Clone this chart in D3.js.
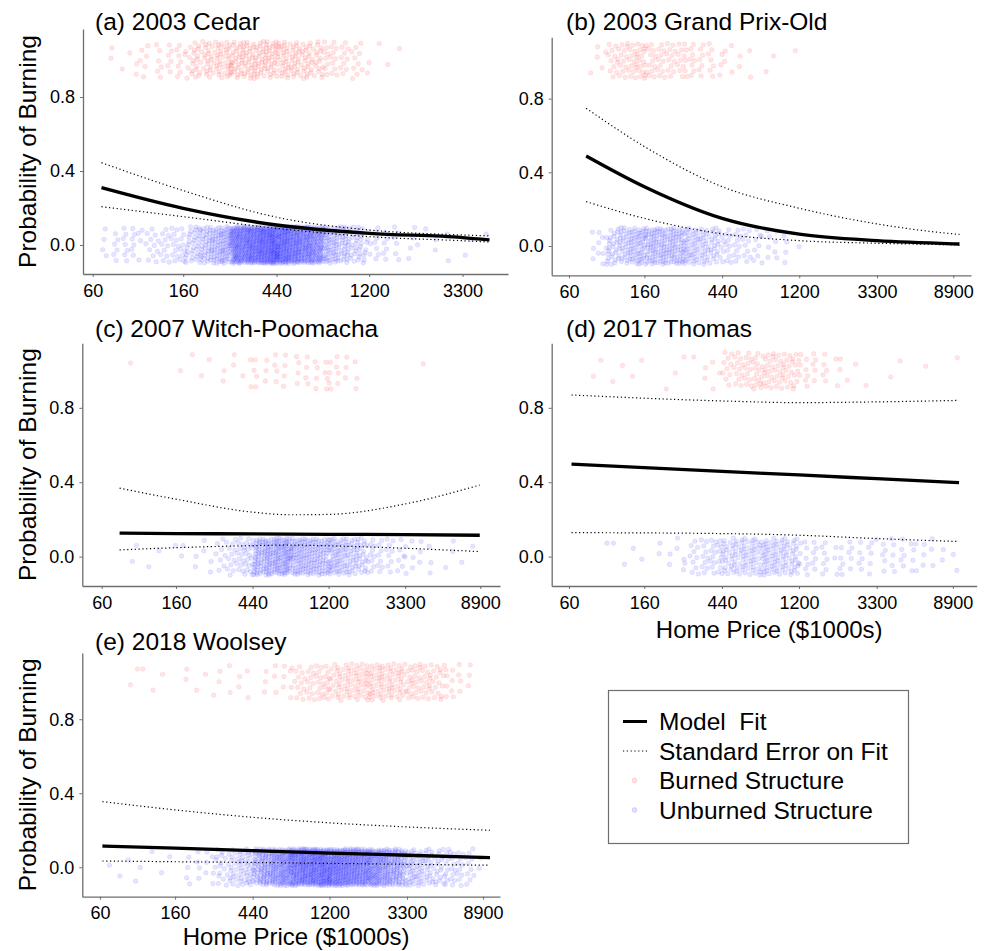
<!DOCTYPE html>
<html>
<head>
<meta charset="utf-8">
<script src="https://cdnjs.cloudflare.com/ajax/libs/d3/7.8.5/d3.min.js"></script>
<style>
  body { margin: 0; background: #fff; }
  svg text { font-family: "Liberation Sans", Arial, sans-serif; fill: #000; }
</style>
</head>
<body>
<svg id="chart" width="989" height="951"></svg>
<script>
// axis ticks
const priceTicks = [60, 160, 440, 1200, 3300, 8900];   // home price, $1000s
const probTicks = [0.0, 0.4, 0.8];

// structures are counted in price bins (half a log unit each), lower edges here
const binEdges = [60, 99, 163, 269, 443, 731, 1205, 1987, 3276, 5402, 8906, 14684];

const fireNames = ["(a) 2003 Cedar", "(b) 2003 Grand Prix-Old", "(c) 2007 Witch-Poomacha",
                   "(d) 2017 Thomas", "(e) 2018 Woolsey"];

// counts of structures per price bin
const cedarBurned     = [6, 25, 80, 110, 90, 40, 3, 0, 0, 0, 0];
const cedarUnburned   = [25, 45, 160, 480, 430, 130, 25, 6, 3, 0, 0];
const grandBurned     = [5, 55, 45, 30, 8, 3, 0, 0, 0, 0, 0];
const grandUnburned   = [12, 110, 140, 90, 40, 15, 0, 0, 0, 0, 0];
const witchBurned     = [1, 0, 4, 7, 15, 16, 14, 0, 1, 0, 0];
const witchUnburned   = [2, 3, 8, 50, 180, 150, 110, 35, 12, 5, 0];
const thomasBurned    = [2, 4, 3, 6, 45, 55, 20, 5, 2, 1, 1];
const thomasUnburned  = [1, 4, 8, 40, 80, 85, 25, 20, 20, 10, 2];
const woolseyBurned   = [2, 3, 5, 8, 12, 45, 65, 70, 55, 15, 0];
const woolseyUnburned = [4, 4, 14, 70, 240, 380, 350, 240, 90, 40, 0];

// lowest / highest home price seen in each fire
const cedarRange   = [66, 4420];
const grandRange   = [74, 1205];
const witchRange   = [76, 8900];
const thomasRange  = [62, 9470];
const woolseyRange = [62, 8650];

// model fit and standard error band, read at these prices
const cedarFitPrice = [66, 160, 440, 1200, 3300, 4420];
const cedarFit      = [0.31, 0.198, 0.108, 0.063, 0.04, 0.027];
const cedarUpper    = [0.445, 0.294, 0.15, 0.081, 0.054, 0.049];
const cedarLower    = [0.207, 0.153, 0.09, 0.045, 0.023, 0.016];

const grandFitPrice = [75, 160, 440, 1200, 3300, 8900, 9650];
const grandFit      = [0.489, 0.322, 0.15, 0.064, 0.029, 0.012, 0.011];
const grandUpper    = [0.748, 0.54, 0.322, 0.205, 0.12, 0.066, 0.063];
const grandLower    = [0.241, 0.15, 0.066, 0.029, 0.015, 0.006, 0.005];

const witchFitPrice = [76, 160, 440, 730, 1200, 3300, 8840];
const witchFit      = [0.126, 0.124, 0.122, 0.121, 0.12, 0.118, 0.115];
const witchUpper    = [0.368, 0.309, 0.239, 0.225, 0.227, 0.283, 0.385];
const witchLower    = [0.036, 0.048, 0.059, 0.062, 0.058, 0.045, 0.027];

const thomasFitPrice = [62, 440, 1200, 3300, 9650];
const thomasFit      = [0.497, 0.458, 0.439, 0.419, 0.398];
const thomasUpper    = [0.869, 0.837, 0.828, 0.832, 0.84];
const thomasLower    = [0.129, 0.124, 0.115, 0.097, 0.081];

const woolseyFitPrice = [62, 160, 440, 1200, 3300, 9740];
const woolseyFit      = [0.115, 0.103, 0.09, 0.077, 0.065, 0.052];
const woolseyUpper    = [0.355, 0.31, 0.27, 0.24, 0.218, 0.2];
const woolseyLower    = [0.034, 0.03, 0.026, 0.021, 0.016, 0.011];

const legendLabels = ["Model  Fit", "Standard Error on Fit", "Burned Structure", "Unburned Structure"];

const panels = [
  {name: fireNames[0], burned: cedarBurned, unburned: cedarUnburned, range: cedarRange,
   fitPrice: cedarFitPrice, fit: cedarFit, upper: cedarUpper, lower: cedarLower},
  {name: fireNames[1], burned: grandBurned, unburned: grandUnburned, range: grandRange,
   fitPrice: grandFitPrice, fit: grandFit, upper: grandUpper, lower: grandLower},
  {name: fireNames[2], burned: witchBurned, unburned: witchUnburned, range: witchRange,
   fitPrice: witchFitPrice, fit: witchFit, upper: witchUpper, lower: witchLower},
  {name: fireNames[3], burned: thomasBurned, unburned: thomasUnburned, range: thomasRange,
   fitPrice: thomasFitPrice, fit: thomasFit, upper: thomasUpper, lower: thomasLower},
  {name: fireNames[4], burned: woolseyBurned, unburned: woolseyUnburned, range: woolseyRange,
   fitPrice: woolseyFitPrice, fit: woolseyFit, upper: woolseyUpper, lower: woolseyLower}
];

// pixel boxes of each panel; x limits given in log units from the $60k tick
const layout = [
  {left: 83,    right: 508,   top: 29,    bottom: 274,   y0: -0.157, y1: 1.168, u0: -0.105, u1: 4.5,  tx: 95,  ty: 30,  ylab: true,  xlab: 0},
  {left: 551.7, right: 971,   top: 37.3,  bottom: 275.3, y0: -0.159, y1: 1.133, u0: -0.225, u1: 5.23, tx: 566, ty: 30,  ylab: false, xlab: 0},
  {left: 82.3,  right: 500,   top: 343.3, bottom: 586,   y0: -0.158, y1: 1.147, u0: -0.256, u1: 5.26, tx: 95,  ty: 337, ylab: true,  xlab: 0},
  {left: 551.7, right: 976.7, top: 343.3, bottom: 586,   y0: -0.158, y1: 1.147, u0: -0.225, u1: 5.31, tx: 566, ty: 337, ylab: false, xlab: 638},
  {left: 82.3,  right: 500,   top: 653,   bottom: 896.7, y0: -0.159, y1: 1.158, u0: -0.23,  u1: 5.22, tx: 95,  ty: 650, ylab: true,  xlab: 945}
];

const svg = d3.select("#chart");
const burnColor = "#ff0000", unburnColor = "#0000ff";
const axisGray = "#6e6e6e";
const uToPrice = u => 60 * Math.exp(u);

// spread the counted structures over their bin (density leaning toward the
// neighbouring bins so the bands do not look blocky), jittered +-0.1 round 0 or 1
function spreadPoints(counts, base, range, seed) {
  let pts = [];
  counts.forEach((n, i) => {
    let lo = Math.max(binEdges[i], range[0]);
    let hi = Math.min(binEdges[i + 1], range[1]);
    if (hi <= lo || n === 0) return;
    let a = (n + (i > 0 ? counts[i - 1] : 0)) / 2 + 0.5;
    let b = (n + (i < counts.length - 1 ? counts[i + 1] : 0)) / 2 + 0.5;
    let off = (seed + i * 0.618) % 1;
    for (let j = 0; j < n; j++) {
      let q = (off + j * 0.7548776662) % 1;
      let t = Math.abs(b - a) < 1e-6 ? q : (-a + Math.sqrt(a * a + (b * b - a * a) * q)) / (b - a);
      let fy = (off * 0.37 + 0.5 + j * 0.5698402910) % 1;
      pts.push({price: lo * Math.pow(hi / lo, t), p: base + (fy - 0.5) * 0.2});
    }
  });
  return pts;
}

panels.forEach((d, k) => {
  let L = layout[k];
  let x = d3.scaleLog().domain([uToPrice(L.u0), uToPrice(L.u1)]).range([L.left, L.right]);
  let y = d3.scaleLinear().domain([L.y0, L.y1]).range([L.bottom, L.top]);
  let g = svg.append("g");

  // axes
  let xAxis = d3.axisBottom(x)
      .tickValues(priceTicks.filter(t => t <= uToPrice(L.u1)))
      .tickFormat(d3.format("d"))
      .tickSize(3).tickSizeOuter(0).tickPadding(7);
  let yAxis = d3.axisLeft(y)
      .tickValues(probTicks)
      .tickFormat(d3.format(".1f"))
      .tickSize(3).tickSizeOuter(0).tickPadding(5);
  let gx = g.append("g").attr("transform", "translate(0," + L.bottom + ")").call(xAxis);
  let gy = g.append("g").attr("transform", "translate(" + L.left + ",0)").call(yAxis);
  [gx, gy].forEach(a => {
    a.select(".domain").attr("stroke", axisGray).attr("stroke-width", 1.3);
    a.selectAll(".tick line").attr("stroke", axisGray);
    a.selectAll(".tick text").attr("font-size", 18).attr("fill", "#000")
      .attr("font-family", "Liberation Sans, Arial, sans-serif");
  });

  // jittered structures
  let red = spreadPoints(d.burned, 1, d.range, 0.13 + k * 0.21);
  let blue = spreadPoints(d.unburned, 0, d.range, 0.47 + k * 0.17);
  g.append("g").selectAll("circle").data(red.concat(blue)).enter()
    .append("circle")
    .attr("cx", p => x(p.price))
    .attr("cy", p => y(p.p))
    .attr("r", 2.3)
    .attr("fill", p => p.p > 0.5 ? burnColor : unburnColor)
    .attr("fill-opacity", 0.1)
    .attr("stroke", p => p.p > 0.5 ? burnColor : unburnColor)
    .attr("stroke-opacity", 0.1)
    .attr("stroke-width", 0.7);

  // fit and standard error lines
  let line = d3.line().x(p => x(p[0])).y(p => y(p[1])).curve(d3.curveMonotoneX);
  [d.upper, d.lower].forEach(vals => {
    g.append("path")
      .attr("d", line(d3.zip(d.fitPrice, vals)))
      .attr("fill", "none").attr("stroke", "#000")
      .attr("stroke-width", 1.2).attr("stroke-dasharray", "1.2,2.6");
  });
  g.append("path")
    .attr("d", line(d3.zip(d.fitPrice, d.fit)))
    .attr("fill", "none").attr("stroke", "#000").attr("stroke-width", 3.3);

  // titles
  g.append("text").attr("x", L.tx).attr("y", L.ty).attr("font-size", 24.5).text(d.name);
  if (L.ylab) {
    g.append("text")
      .attr("transform", "translate(36," + ((L.top + L.bottom) / 2) + ") rotate(-90)")
      .attr("text-anchor", "middle").attr("font-size", 24.5)
      .text("Probability of Burning");
  }
  if (L.xlab) {
    g.append("text")
      .attr("x", (L.left + L.right) / 2 + 5).attr("y", L.xlab)
      .attr("text-anchor", "middle").attr("font-size", 24)
      .text("Home Price ($1000s)");
  }
});

// legend
let lg = svg.append("g");
lg.append("rect").attr("x", 608.5).attr("y", 690.5).attr("width", 300).attr("height", 153)
  .attr("fill", "#fff").attr("stroke", axisGray).attr("stroke-width", 1.2);
legendLabels.forEach((lab, i) => {
  let cy = 721.5 + i * 29.5;
  if (i === 0) {
    lg.append("line").attr("x1", 623).attr("x2", 647).attr("y1", cy).attr("y2", cy)
      .attr("stroke", "#000").attr("stroke-width", 3);
  } else if (i === 1) {
    lg.append("line").attr("x1", 623).attr("x2", 647).attr("y1", cy).attr("y2", cy)
      .attr("stroke", "#000").attr("stroke-width", 1.2).attr("stroke-dasharray", "1.2,2.6");
  } else {
    let c = i === 2 ? burnColor : unburnColor;
    lg.append("circle").attr("cx", 634.5).attr("cy", cy).attr("r", 2.4)
      .attr("fill", c).attr("fill-opacity", 0.12)
      .attr("stroke", c).attr("stroke-opacity", 0.12);
  }
  lg.append("text").attr("x", 659).attr("y", cy + 8.5).attr("font-size", 24.5)
    .style("white-space", "pre").text(lab);
});
</script>
</body>
</html>
